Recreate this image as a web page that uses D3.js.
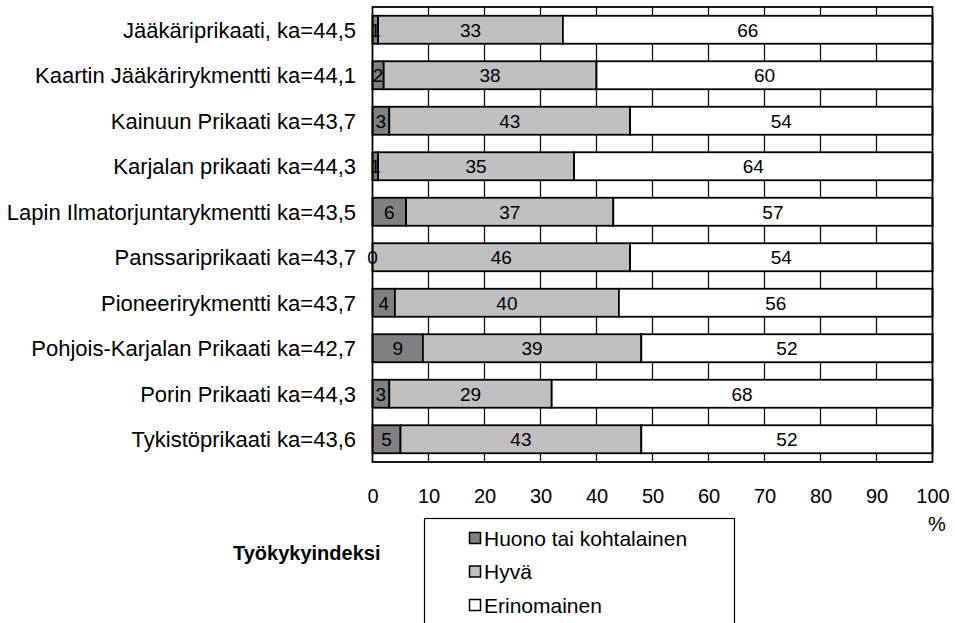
<!DOCTYPE html>
<html>
<head>
<meta charset="utf-8">
<script src="https://cdn.jsdelivr.net/npm/d3@7"></script>
<style>
  body { margin: 0; background: #fff; }
  text { font-family: "Liberation Sans", Arial, sans-serif; }
</style>
</head>
<body>
<svg id="chart" width="955" height="623"></svg>
<script>
// categories, top to bottom
const units = [
  "Jääkäriprikaati, ka=44,5",
  "Kaartin Jääkärirykmentti ka=44,1",
  "Kainuun Prikaati ka=43,7",
  "Karjalan prikaati ka=44,3",
  "Lapin Ilmatorjuntarykmentti ka=43,5",
  "Panssariprikaati ka=43,7",
  "Pioneerirykmentti ka=43,7",
  "Pohjois-Karjalan Prikaati ka=42,7",
  "Porin Prikaati ka=44,3",
  "Tykistöprikaati ka=43,6"
];
const huono = [1, 2, 3, 1, 6, 0, 4, 9, 3, 5];
const hyva = [33, 38, 43, 35, 37, 46, 40, 39, 29, 43];
const erinomainen = [66, 60, 54, 64, 57, 54, 56, 52, 68, 52];
const seriesNames = ["Huono tai kohtalainen", "Hyvä", "Erinomainen"];
const xTicks = [0, 10, 20, 30, 40, 50, 60, 70, 80, 90, 100];

const colors = ["#808080", "#c0c0c0", "#ffffff"];

const svg = d3.select("#chart");
const plotL = 372.5, plotR = 932.5, plotT = 7, plotB = 462;

const x = d3.scaleLinear().domain([0, 100]).range([plotL, plotR]);
const y = d3.scaleBand().domain(units).range([plotT, plotB])
  .paddingInner(0.385).paddingOuter(0.1925);
const bw = y.bandwidth();

// stacked table built from the arrays
const rows = units.map((u, i) => ({unit: u, s0: huono[i], s1: hyva[i], s2: erinomainen[i]}));
const stack = d3.stack().keys(["s0", "s1", "s2"])(rows);

// bars
const layers = svg.append("g").selectAll("g")
  .data(stack).enter().append("g")
  .attr("fill", (d, i) => colors[i]);

layers.selectAll("rect")
  .data(d => d).enter().append("rect")
  .attr("x", d => x(d[0]))
  .attr("width", d => x(d[1]) - x(d[0]))
  .attr("y", d => y(d.data.unit))
  .attr("height", bw)
  .attr("stroke", "#000").attr("stroke-width", 1.8);

// vertical gridlines, drawn only in the gaps between bars
const gaps = d3.range(units.length + 1).map(i => ({
  y0: i === 0 ? plotT : y(units[i - 1]) + bw,
  y1: i === units.length ? plotB : y(units[i])
}));
const gridSegs = [];
xTicks.slice(1, -1).forEach(t => gaps.forEach(g => gridSegs.push({t, y0: g.y0, y1: g.y1})));
svg.append("g").selectAll("line")
  .data(gridSegs)
  .join("line")
  .attr("x1", d => x(d.t))
  .attr("x2", d => x(d.t))
  .attr("y1", d => d.y0)
  .attr("y2", d => d.y1)
  .attr("stroke", "#111")
  .attr("stroke-width", 1.3);

// value labels in the middle of each segment
stack.forEach(layer => {
  svg.append("g").selectAll("text")
    .data(layer).enter().append("text")
    .attr("x", d => x((d[0] + d[1]) / 2))
    .attr("y", d => y(d.data.unit) + bw / 2)
    .attr("dy", "0.36em")
    .attr("text-anchor", "middle")
    .attr("font-size", 19)
    .text(d => d[1] - d[0]);
});

// plot frame
svg.append("rect")
  .attr("x", plotL).attr("y", plotT)
  .attr("width", plotR - plotL).attr("height", plotB - plotT)
  .attr("fill", "none").attr("stroke", "#000").attr("stroke-width", 1.8);

// category labels
svg.append("g").selectAll("text")
  .data(units).enter().append("text")
  .attr("x", 356)
  .attr("y", d => y(d) + bw / 2)
  .attr("dy", "0.36em")
  .attr("text-anchor", "end")
  .attr("font-size", 22)
  .text(d => d);

// x axis tick labels (no axis line, just the numbers)
const xAxis = d3.axisBottom(x).tickValues(xTicks).tickSize(0).tickPadding(0);
const ax = svg.append("g").attr("transform", "translate(0,489)").call(xAxis);
ax.select(".domain").remove();
ax.selectAll("text")
  .attr("font-size", 20)
  .attr("font-family", "Liberation Sans, Arial, sans-serif")
  .attr("fill", "#000");

svg.append("text")
  .attr("x", 937).attr("y", 524).attr("dy", "0.36em")
  .attr("text-anchor", "middle").attr("font-size", 20)
  .text("%");

// legend
const lg = svg.append("g");
lg.append("rect")
  .attr("x", 424.5).attr("y", 518.5)
  .attr("width", 310).attr("height", 120)
  .attr("fill", "#fff").attr("stroke", "#000").attr("stroke-width", 1.2);

const legendY = d3.scalePoint().domain(seriesNames).range([538, 605]);
const items = lg.selectAll("g.item")
  .data(seriesNames).enter().append("g")
  .attr("transform", d => `translate(469,${legendY(d)})`);
items.append("rect")
  .attr("x", 0.5).attr("y", -5.5)
  .attr("width", 11).attr("height", 11)
  .attr("fill", (d, i) => colors[i])
  .attr("stroke", "#000").attr("stroke-width", 1.5);
items.append("text")
  .attr("x", 15).attr("dy", "0.36em")
  .attr("font-size", 21)
  .text(d => d);

svg.append("text")
  .attr("x", 233).attr("y", 553).attr("dy", "0.36em")
  .attr("font-size", 20).attr("font-weight", "bold")
  .text("Työkykyindeksi");
</script>
</body>
</html>
